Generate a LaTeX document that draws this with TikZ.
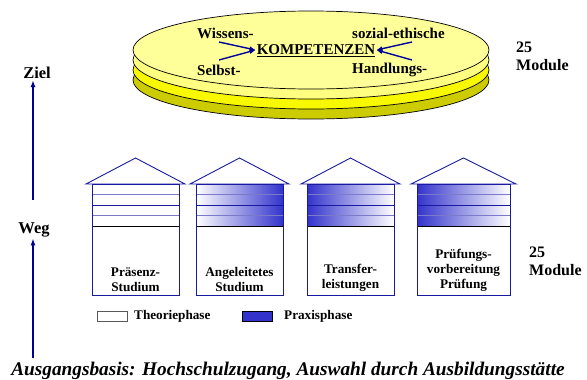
\documentclass[tikz,border=0pt]{standalone}
\usepackage{fontspec}
\setmainfont{Liberation Serif}
\usetikzlibrary{arrows.meta}
\definecolor{praxis}{HTML}{3333CC}
\definecolor{navyarrow}{HTML}{000099}
\definecolor{houseblue}{HTML}{1A1AA0}
\definecolor{stripelight}{HTML}{7A7AC8}
\definecolor{yA}{HTML}{FFFF99}
\definecolor{yB}{HTML}{FFFF80}
\definecolor{yC}{HTML}{F8F800}
\definecolor{yD}{HTML}{CCCC00}
\tikzset{
  disc/.style={draw=black, line width=0.7pt},
  txtbig/.style={font=\bfseries\fontsize{15}{17}\selectfont, inner sep=1pt},
  side/.style={font=\bfseries\fontsize{16.5}{18}\selectfont, inner sep=1pt},
  modlabel/.style={font=\bfseries\fontsize{16}{18}\selectfont, align=left, anchor=west, inner sep=0pt},
  boxlabel/.style={font=\bfseries\fontsize{13.2}{15}\selectfont, align=center, anchor=south, inner sep=0pt},
  legtxt/.style={font=\bfseries\fontsize{13.2}{14}\selectfont, anchor=west, inner sep=0pt},
  karrow/.style={draw=navyarrow, line width=1.4pt, -{Latex[length=6pt,width=5pt]}},
  varrow/.style={draw=navyarrow, line width=1.6pt, -{Latex[length=7pt,width=5pt]}},
  houseline/.style={draw=houseblue, line width=0.9pt}
}
\begin{document}
\begin{tikzpicture}[x=1pt,y=-1pt]
\useasboundingbox (0,0) rectangle (587,380);
% stacked discs
\fill[white] (0,0) rectangle (587,380);
\draw[disc, fill=yD] (311,80) ellipse [x radius=178, y radius=39];
\draw[disc, fill=yC] (311,70) ellipse [x radius=178, y radius=39];
\draw[disc, fill=yB] (311,60) ellipse [x radius=178, y radius=39];
\draw[disc, fill=yA] (311,50) ellipse [x radius=178, y radius=39];
% texts on disc
\node[txtbig, anchor=west] (wis) at (196,33) {Wissens-};
\node[txtbig, anchor=west] (sel) at (196,70) {Selbst-};
\node[txtbig, anchor=west] (soz) at (351,33) {sozial-ethische};
\node[txtbig, anchor=west] (han) at (351,70) {Handlungs-};
\node[txtbig] (komp) at (316,51) {\underline{KOMPETENZEN}};
\coordinate (aw) at (219,42);
\coordinate (as) at (219,60);
\coordinate (az) at (412,42);
\coordinate (ah) at (412,60);
\draw[karrow] (aw) -- ([yshift=1pt]komp.west);
\draw[karrow] (as) -- ([yshift=1pt]komp.west);
\draw[karrow] (az) -- ([yshift=1pt]komp.east);
\draw[karrow] (ah) -- ([yshift=1pt]komp.east);
% module labels
\node[modlabel] (m1) at (516,56) {25\\Module};
\node[modlabel] (m2) at (529,261) {25\\Module};
% left axis
\node[side] (ziel) at (37,73) {Ziel};
\node[side] (weg) at (34,230) {Weg};
\coordinate (z0) at (33,200);
\coordinate (w0) at (33,358);
\draw[varrow] (z0) -- (z0 |- ziel.south);
\draw[varrow] (w0) -- (w0 |- weg.south);
% houses
\foreach \l/\w/\lc/\rc in {92/87/white/white, 196/87/white/praxis, 307/87/praxis/white, 417/93/praxis/white}{
  \shade[left color=\lc, right color=\rc] (\l,184) rectangle ({\l+\w},226);
  \draw[stripelight, line width=0.9pt] (\l,194.5) -- ({\l+\w},194.5);
  \draw[stripelight, line width=0.9pt] (\l,215.5) -- ({\l+\w},215.5);
  \draw[houseblue, line width=0.8pt] (\l,205) -- ({\l+\w},205);
  \draw[black, line width=0.8pt] (\l,226) -- ({\l+\w},226);
  \draw[houseline] (\l,184) rectangle ({\l+\w},295);
  \draw[houseline, line join=miter] ({\l-6},184) -- ({\l+\w/2},158) -- ({\l+\w+6},184) -- cycle;
}
\node[boxlabel] (h1) at (135.5,292) {Präsenz-\\Studium};
\node[boxlabel] (h2) at (239.5,292) {Angeleitetes\\Studium};
\node[boxlabel] (h3) at (350.5,292) {Transfer-\\leistungen};
\node[boxlabel] (h4) at (463.5,292) {Prüfungs-\\vorbereitung\\Prüfung};
% legend
\draw[draw=gray!70!black, fill=white, line width=0.8pt] (97,311) rectangle (127,321);
\node[legtxt] (lt) at (134,316) {Theoriephase};
\draw[draw=black, fill=praxis, line width=0.6pt] (242,311) rectangle (272,321);
\node[legtxt] (lp) at (284,316) {Praxisphase};
% bottom
\node[font=\bfseries\itshape\fontsize{19.3}{21}\selectfont, inner sep=0pt] (basis) at (288,371) {Ausgangsbasis: Hochschulzugang, Auswahl durch Ausbildungsstätte};
\end{tikzpicture}
\end{document}
